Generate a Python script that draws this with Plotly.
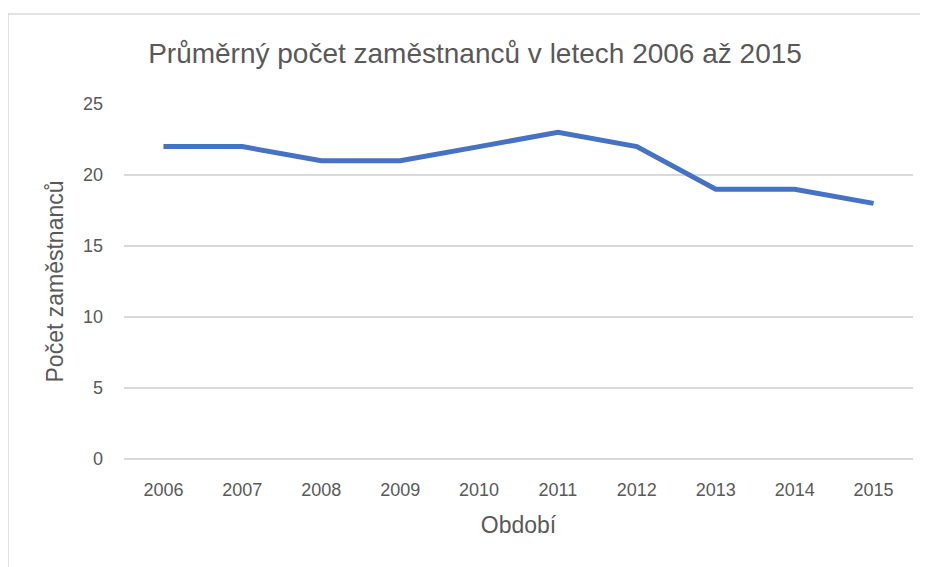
import plotly.graph_objects as go

years = ["2006", "2007", "2008", "2009", "2010", "2011", "2012", "2013", "2014", "2015"]
employees = [22, 22, 21, 21, 22, 23, 22, 19, 19, 18]
y_ticks = [0, 5, 10, 15, 20, 25]

title_text = "Průměrný počet zaměstnanců v letech 2006 až 2015"
x_title = "Období"
y_title = "Počet zaměstnanců"

W, H = 928, 567
OFF = 8  # page offset of the figure (body margin)
L, R, T, B = 124 - OFF, 15 + OFF, 104 - OFF, 108 + OFF
pw = W - L - R
ph = H - T - B

def px_to_paper_x(px):
    return (px - OFF - L) / pw

def px_to_paper_y(py):
    return (H - B - (py - OFF)) / ph

fig = go.Figure()
fig.add_trace(go.Scatter(
    x=years, y=employees, mode="lines",
    line=dict(color="#4472C4", width=5, shape="linear"),
    hoverinfo="x+y", showlegend=False,
))

tick_font = dict(family="Liberation Sans, Arial, sans-serif", size=18, color="#595959")

fig.update_layout(
    width=W, height=H,
    margin=dict(l=L, r=R, t=T, b=B),
    paper_bgcolor="white", plot_bgcolor="white",
    title=dict(
        text=title_text, x=(475 - OFF) / W, xanchor="center", y=1 - 45 / H, yanchor="middle",
        font=dict(family="Liberation Sans, Arial, sans-serif", size=28, color="#595959"),
    ),
    xaxis=dict(
        type="category", range=[-0.5, 9.5], showgrid=False, zeroline=False, showline=False,
        automargin=False,
        ticks="", tickfont=tick_font, ticklabelstandoff=18,
        title=dict(text=x_title, font=dict(family="Liberation Sans, sans-serif", size=23, color="#595959"), standoff=17),
    ),
    yaxis=dict(
        range=[0, 25], tickvals=y_ticks, showgrid=True, gridcolor="#d9d9d9", gridwidth=1.5,
        zeroline=True, zerolinecolor="#d9d9d9", zerolinewidth=1.5, showline=False,
        automargin=False,
        ticks="", tickfont=tick_font, ticklabelstandoff=20,
        title=dict(text=y_title, font=dict(family="Liberation Sans, sans-serif", size=23, color="#595959"), standoff=12),
    ),
    shapes=[dict(
        type="rect", xref="paper", yref="paper",
        x0=px_to_paper_x(8), x1=px_to_paper_x(950),
        y0=px_to_paper_y(600), y1=px_to_paper_y(14),
        line=dict(color="#d9d9d9", width=1.5), fillcolor="rgba(0,0,0,0)", layer="below",
    )],
)

fig.write_html("out.html")
